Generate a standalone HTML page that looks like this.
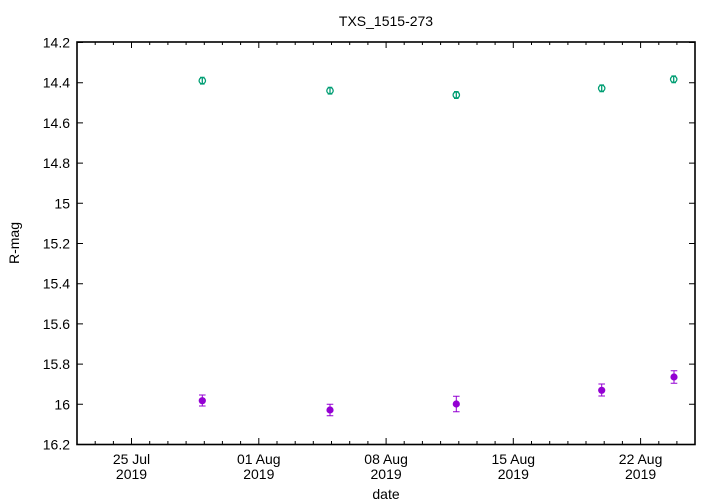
<!DOCTYPE html>
<html><head><meta charset="utf-8"><style>
html,body{margin:0;padding:0;background:#fff;}
svg{display:block;}
text{font-family:"Liberation Sans",sans-serif;font-size:14px;fill:#000;}
</style></head><body>
<svg width="720" height="504" viewBox="0 0 720 504" xmlns="http://www.w3.org/2000/svg">
<rect width="720" height="504" fill="#fff"/>
<text x="386" y="26" text-anchor="middle">TXS_1515-273</text>
<g stroke="#000" stroke-width="1" fill="none">
<path d="M77 42.5h6M77 82.7h6M77 122.9h6M77 163.1h6M77 203.3h6M77 243.5h6M77 283.7h6M77 323.9h6M77 364.1h6M77 404.3h6M77 444.5h6"/>
<path d="M695 42.5h-6M695 82.7h-6M695 122.9h-6M695 163.1h-6M695 203.3h-6M695 243.5h-6M695 283.7h-6M695 323.9h-6M695 364.1h-6M695 404.3h-6M695 444.5h-6"/>
<path d="
M95.2 444v-3M113.4 444v-3M131.5 444v-6M149.7 444v-3M167.9 444v-3M186.1 444v-3M204.3 444v-3M222.4 444v-3M240.6 444v-3M258.8 444v-6M277 444v-3M295.2 444v-3M313.3 444v-3M331.5 444v-3M349.7 444v-3M367.9 444v-3M386.1 444v-6M404.2 444v-3M422.4 444v-3M440.6 444v-3M458.8 444v-3M477 444v-3M495.1 444v-3M513.3 444v-6M531.5 444v-3M549.7 444v-3M567.9 444v-3M586 444v-3M604.2 444v-3M622.4 444v-3M640.6 444v-6M658.8 444v-3M676.9 444v-3"/>
<path d="
M95.2 42v3M113.4 42v3M131.5 42v6M149.7 42v3M167.9 42v3M186.1 42v3M204.3 42v3M222.4 42v3M240.6 42v3M258.8 42v6M277 42v3M295.2 42v3M313.3 42v3M331.5 42v3M349.7 42v3M367.9 42v3M386.1 42v6M404.2 42v3M422.4 42v3M440.6 42v3M458.8 42v3M477 42v3M495.1 42v3M513.3 42v6M531.5 42v3M549.7 42v3M567.9 42v3M586 42v3M604.2 42v3M622.4 42v3M640.6 42v6M658.8 42v3M676.9 42v3"/>
</g>
<rect x="77" y="42" width="618" height="402.5" fill="none" stroke="#000" stroke-width="1.6"/>
<g text-anchor="end">
<text x="70" y="47.5">14.2</text>
<text x="70" y="87.7">14.4</text>
<text x="70" y="127.9">14.6</text>
<text x="70" y="168.1">14.8</text>
<text x="70" y="208.3">15</text>
<text x="70" y="248.5">15.2</text>
<text x="70" y="288.7">15.4</text>
<text x="70" y="328.9">15.6</text>
<text x="70" y="369.1">15.8</text>
<text x="70" y="409.3">16</text>
<text x="70" y="449.5">16.2</text>
</g>
<g text-anchor="middle">
<text x="131.5" y="464">25 Jul</text><text x="131.5" y="479">2019</text>
<text x="258.8" y="464">01 Aug</text><text x="258.8" y="479">2019</text>
<text x="386.1" y="464">08 Aug</text><text x="386.1" y="479">2019</text>
<text x="513.3" y="464">15 Aug</text><text x="513.3" y="479">2019</text>
<text x="640.6" y="464">22 Aug</text><text x="640.6" y="479">2019</text>
<text x="386" y="499">date</text>
<text transform="translate(19,243) rotate(-90)">R-mag</text>
</g>
<g stroke="#009e73" stroke-width="1.3" fill="none">
<circle cx="202.3" cy="80.7" r="3.2"/><path d="M202.3 77.4v6.6M200 77.4h4.6M200 84h4.6"/>
<circle cx="330" cy="90.7" r="3.2"/><path d="M330 87.4v6.6M327.7 87.4h4.6M327.7 94h4.6"/>
<circle cx="456.3" cy="95" r="3.2"/><path d="M456.3 91.7v6.6M454 91.7h4.6M454 98.3h4.6"/>
<circle cx="601.7" cy="88.3" r="3.2"/><path d="M601.7 85v6.6M599.4 85h4.6M599.4 91.6h4.6"/>
<circle cx="673.7" cy="79.3" r="3.2"/><path d="M673.7 76v6.6M671.4 76h4.6M671.4 82.6h4.6"/>
</g>
<g stroke="#9400d3" stroke-width="1" fill="#9400d3">
<path d="M202.3 395v11M199 395h6.6M199 406h6.6"/><circle cx="202.3" cy="400.7" r="3.6" stroke="none"/>
<path d="M330 404.3v11.4M326.7 404.3h6.6M326.7 415.7h6.6"/><circle cx="330" cy="410" r="3.6" stroke="none"/>
<path d="M456.3 396.3v15.4M453 396.3h6.6M453 411.7h6.6"/><circle cx="456.3" cy="404" r="3.6" stroke="none"/>
<path d="M601.7 384v12M598.4 384h6.6M598.4 396h6.6"/><circle cx="601.7" cy="390.3" r="3.6" stroke="none"/>
<path d="M674 370.7v12.6M670.7 370.7h6.6M670.7 383.3h6.6"/><circle cx="674" cy="377" r="3.6" stroke="none"/>
</g>
</svg>
</body></html>
